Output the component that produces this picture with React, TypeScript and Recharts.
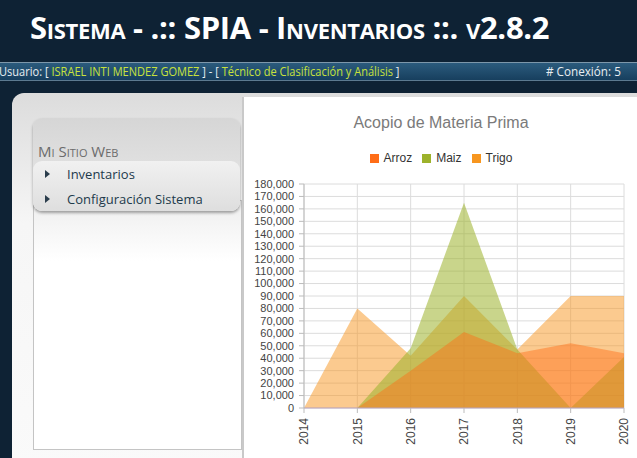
import { AreaChart, Area, XAxis, YAxis, CartesianGrid, Legend } from 'recharts';

const years = ['2014', '2015', '2016', '2017', '2018', '2019', '2020'];
const arroz = [0, 0, 30000, 61000, 44000, 52000, 44000];
const maiz = [0, 0, 48000, 165000, 47000, 0, 41000];
const trigo = [0, 80000, 42000, 90000, 47000, 90000, 90000];
const yTicks = [
  0, 10000, 20000, 30000, 40000, 50000, 60000, 70000, 80000, 90000,
  100000, 110000, 120000, 130000, 140000, 150000, 160000, 170000, 180000,
];

const series = [
  { key: 'Arroz', color: '#ff6d17' },
  { key: 'Maiz', color: '#9db22b' },
  { key: 'Trigo', color: '#f7961f' },
];

const chartData = years.map((year, i) => ({
  year,
  Arroz: arroz[i],
  Maiz: maiz[i],
  Trigo: trigo[i],
}));

const chartFont = '"Liberation Sans", Arial, sans-serif';

// x labels are drawn vertically, reading bottom to top
function YearTick({ x, y, payload }: any) {
  return (
    <g transform={`translate(${x},${y})`}>
      <text
        transform="rotate(-90)"
        x={-3}
        dy="0.35em"
        textAnchor="end"
        fill="#444"
        fontSize={12}
        fontFamily={chartFont}
      >
        {payload.value}
      </text>
    </g>
  );
}

function LegendBoxes() {
  return (
    <div style={{ display: 'flex', justifyContent: 'center', gap: 10, fontFamily: chartFont, fontSize: 12, color: '#333' }}>
      {series.map((s) => (
        <span key={s.key} style={{ display: 'flex', alignItems: 'center' }}>
          <span style={{ width: 9, height: 9, background: s.color, marginRight: 5, display: 'inline-block' }} />
          {s.key}
        </span>
      ))}
    </div>
  );
}

function Sidebar() {
  const item = (label: string, top: number) => (
    <div style={{ position: 'absolute', left: 0, top, width: '100%', height: 22, fontSize: 13, color: '#1d3a4c' }}>
      <span
        style={{
          position: 'absolute', left: 12, top: 7, width: 0, height: 0,
          borderTop: '4px solid transparent', borderBottom: '4px solid transparent', borderLeft: '5px solid #2b3d4c',
        }}
      />
      <span style={{ position: 'absolute', left: 34, top: 2 }}>{label}</span>
    </div>
  );
  return (
    <>
      {/* lower white column */}
      <div
        style={{
          position: 'absolute', left: 33, top: 200, width: 207, height: 248,
          border: '1px solid #c4c4c4', background: 'linear-gradient(#eeeeee, #ffffff 60px)',
        }}
      />
      {/* menu box */}
      <div
        style={{
          position: 'absolute', left: 33, top: 118, width: 207, height: 93, borderRadius: 9,
          background: 'linear-gradient(#d6d6d6, #e9e9e9)', boxShadow: '0 2px 3px rgba(0,0,0,0.35)',
        }}
      >
        <div style={{ position: 'absolute', left: 5, top: 23, fontSize: 15, color: '#6b6b6b', fontVariant: 'small-caps' }}>
          Mi Sitio Web
        </div>
        <div
          style={{
            position: 'absolute', left: 0, top: 43, width: 207, height: 50, borderRadius: 9,
            background: 'linear-gradient(#f1f1f1, #dedede)',
          }}
        >
          {item('Inventarios', 2)}
          {item('Configuración Sistema', 27)}
        </div>
      </div>
    </>
  );
}

export default function App() {
  return (
    <div
      style={{
        position: 'absolute', left: 0, top: 0, width: 637, height: 458, overflow: 'hidden',
        background: '#0e2234', fontFamily: '"Open Sans", sans-serif',
      }}
    >
      <div
        style={{
          position: 'absolute', left: 30, top: 6, color: '#fff', fontWeight: 700, fontSize: 31,
          fontVariant: 'small-caps', whiteSpace: 'nowrap', letterSpacing: -0.3,
        }}
      >
        Sistema - .:: SPIA - Inventarios ::. v2.8.2
      </div>

      <div
        style={{
          position: 'absolute', left: 0, top: 62, width: 637, height: 17,
          background: 'linear-gradient(#2b5b7d, #173f5e)', borderTop: '1px solid #7d97aa',
          borderBottom: '1px solid #5c7a90', fontSize: 13, lineHeight: '17px', color: '#e8eef2', whiteSpace: 'nowrap',
        }}
      >
        <span style={{ position: 'absolute', left: -1, top: 0, transform: 'scaleX(0.85)', transformOrigin: 'left center' }}>
          Usuario: [ <span style={{ color: '#c8e23c' }}>ISRAEL INTI MENDEZ GOMEZ</span> ] - [{' '}
          <span style={{ color: '#c8e23c' }}>Técnico de Clasificación y Análisis</span> ]
        </span>
        <span style={{ position: 'absolute', left: 546, top: 0, transform: 'scaleX(0.9)', transformOrigin: 'left center' }}>
          # Conexión: 5
        </span>
      </div>

      {/* content panel */}
      <div
        style={{
          position: 'absolute', left: 12, top: 93, width: 640, height: 380, borderTopLeftRadius: 12,
          background: 'linear-gradient(#dcdcdc, #f6f6f6 130px, #fafafa)',
        }}
      />
      <Sidebar />

      <div
        style={{
          position: 'absolute', left: 242, top: 97, width: 395, height: 361, background: '#fff',
          borderLeft: '2px solid #c9c9c9',
        }}
      />

      <div
        style={{
          position: 'absolute', left: 245, top: 114, width: 392, textAlign: 'center',
          fontFamily: chartFont, fontSize: 16, color: '#7a7a7a',
        }}
      >
        Acopio de Materia Prima
      </div>

      <div style={{ position: 'absolute', left: 245, top: 96 }}>
        <AreaChart width={392} height={362} data={chartData} margin={{ top: 88, right: 13, bottom: 10, left: 0 }}>
          <CartesianGrid stroke="#dcdcdc" vertical horizontal />
          <XAxis
            dataKey="year"
            interval={0}
            height={40}
            tick={<YearTick />}
            tickSize={5}
            stroke="#b9a6c4"
            tickLine={{ stroke: '#bbb' }}
          />
          <YAxis
            width={59}
            domain={[0, 180000]}
            ticks={yTicks}
            interval={0}
            tickSize={5}
            tickMargin={5}
            stroke="#bbb"
            tickFormatter={(v: number) => v.toLocaleString('en-US')}
            tick={{ fill: '#444', fontSize: 11, fontFamily: chartFont }}
          />
          <Legend
            layout="horizontal"
            verticalAlign="middle"
            align="center"
            content={<LegendBoxes />}
            wrapperStyle={{ top: 55, left: 0, width: 392 }}
          />
          <Area type="linear" dataKey="Trigo" stroke="none" fill="#f7961f" fillOpacity={0.5} isAnimationActive={false} />
          <Area type="linear" dataKey="Maiz" stroke="none" fill="#9db22b" fillOpacity={0.55} isAnimationActive={false} />
          <Area type="linear" dataKey="Arroz" stroke="none" fill="#ff6d17" fillOpacity={0.45} isAnimationActive={false} />
        </AreaChart>
      </div>
    </div>
  );
}
